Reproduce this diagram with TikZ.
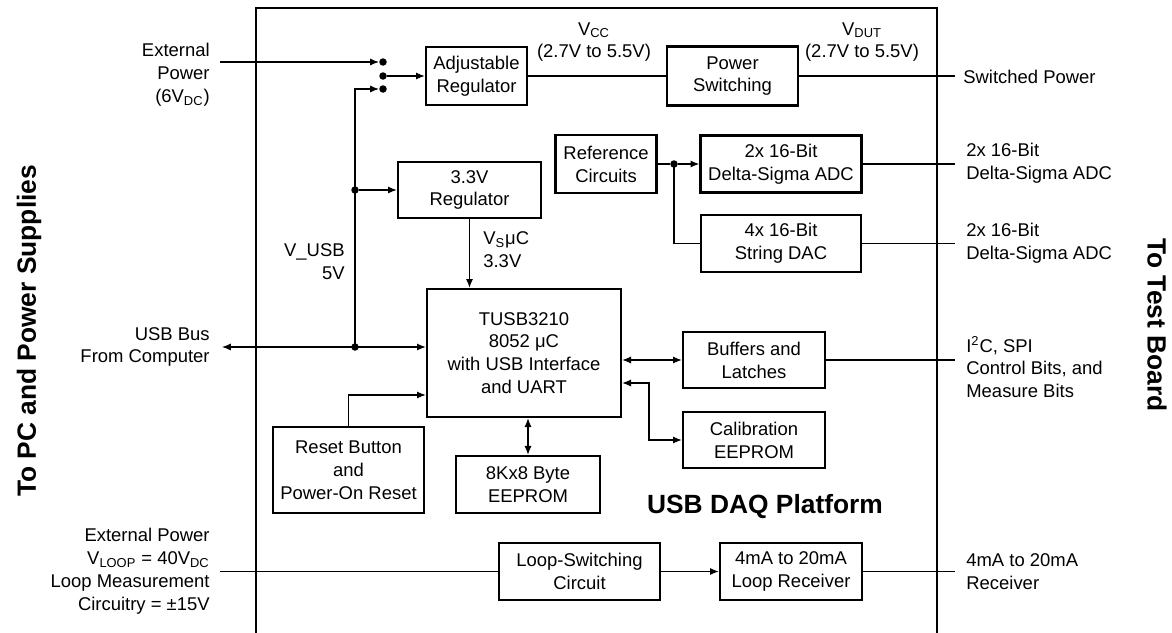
\documentclass[tikz,border=0pt]{standalone}
\usepackage{fontspec}
\setmainfont{Liberation Sans}
\usetikzlibrary{arrows.meta}

\begin{document}
\begin{tikzpicture}[x=0.02cm, y=-0.02cm, font=\fontsize{10.5}{13}\selectfont]
\tikzstyle{box1}=[draw, line width=1.4pt, align=center, inner sep=0pt]
\tikzstyle{dot}=[circle, fill, inner sep=0pt, minimum size=0.15cm]
\tikzstyle{txt}=[align=center, inner sep=0pt]
\tikzstyle{wire}=[line width=0.6pt]
\tikzstyle{arrow}=[wire, -{Latex[length=5pt,width=4pt]}]
\tikzstyle{biarrow}=[wire, {Latex[length=5pt,width=4pt]}-{Latex[length=5pt,width=4pt]}]
\tikzstyle{title}=[font=\fontsize{15}{18}\selectfont\bfseries, inner sep=0pt]
\useasboundingbox (0,0) rectangle (1172,632);

\draw [line width=1.3pt] (256,634) -- (256,8) -- (937,8) -- (937,634);

\node (AR) [box1, minimum width=2.02cm, minimum height=1.16cm] at (476.5,76) {Adjustable\\Regulator};
\node (PS) [box1, minimum width=2.62cm, minimum height=1.18cm] at (732.5,76) {Power\\Switching};
\node (RC) [box1, minimum width=2.02cm, minimum height=1.16cm] at (606,164) {Reference\\Circuits};
\node (ADC) [box1, minimum width=3.22cm, minimum height=1.14cm] at (781,164) {2x 16-Bit\\Delta-Sigma ADC};
\node (DAC) [box1, minimum width=3.2cm, minimum height=1.14cm] at (781,243.5) {4x 16-Bit\\String DAC};
\node (REG) [box1, minimum width=2.86cm, minimum height=1.12cm] at (469.5,190) {3.3V\\Regulator};
\node (MCU) [box1, minimum width=3.88cm, minimum height=2.56cm] at (524,353) {TUSB3210\\8052 μC\\with USB Interface\\and UART};
\node (BUF) [box1, minimum width=2.84cm, minimum height=1.12cm] at (754,360) {Buffers and\\Latches};
\node (CAL) [box1, minimum width=2.84cm, minimum height=1.12cm] at (754,440) {Calibration\\EEPROM};
\node (RST) [box1, minimum width=3.02cm, minimum height=1.72cm] at (348.5,470) {Reset Button\\and\\Power-On Reset};
\node (EEP) [box1, minimum width=2.88cm, minimum height=1.14cm] at (528,484.5) {8Kx8 Byte\\EEPROM};
\node (LSW) [box1, minimum width=3.22cm, minimum height=1.14cm] at (579.5,571.5) {Loop-Switching\\Circuit};
\node (LRX) [box1, minimum width=2.84cm, minimum height=1.14cm] at (791,571.5) {4mA to 20mA\\Loop Receiver};

\node (S1) [dot] at (383,62) {};
\node (S2) [dot] at (383,76) {};
\node (S3) [dot] at (383,89) {};
\node (J1) [dot] at (355,347) {};
\node (J2) [dot] at (355,190) {};
\node (RJ) [dot] at (674,164) {};

\coordinate (EXT) at (220,62);
\coordinate (USBL) at (222,347);
\coordinate (LOOP) at (220,571.5);
\coordinate (SWO) at (955,76);

\node (EXTT) [txt, anchor=east, align=right] at (210,75) {External\\Power\\(6V\textsubscript{DC})};
\node (USBT) [txt, anchor=east, align=right] at (210,347) {USB Bus\\From Computer};
\node (VUSB) [txt, anchor=east, align=right] at (345,262) {V\_USB\\5V};
\node (VSUC) [txt, anchor=west, align=left] at (483,249.5) {V\textsubscript{S}μC\\3.3V};
\node (VCC) [txt] at (594,42) {V\textsubscript{CC}\\(2.7V to 5.5V)};
\node (VDUT) [txt] at (862,42) {V\textsubscript{DUT}\\(2.7V to 5.5V)};
\node (SWT) [txt, anchor=west] at (963,77) {Switched Power};
\node (ADCT) [txt, anchor=west, align=left] at (966,163.5) {2x 16-Bit\\Delta-Sigma ADC};
\node (DACT) [txt, anchor=west, align=left] at (966,243) {2x 16-Bit\\Delta-Sigma ADC};
\node (BUFT) [txt, anchor=west, align=left] at (966,367) {I\textsuperscript{2}C, SPI\\Control Bits, and\\Measure Bits};
\node (LRXT) [txt, anchor=west, align=left] at (966,571.5) {4mA to 20mA\\Receiver};
\node (LOOPT) [txt, anchor=east, align=right] at (210,571) {External Power\\V\textsubscript{LOOP} = 40V\textsubscript{DC}\\Loop Measurement\\Circuitry = ±15V};
\node (DAQ) [title] at (765,507) {USB DAQ Platform};
\node (PC) [title, rotate=90] at (29,331) {To PC and Power Supplies};
\node (TB) [title, rotate=-90] at (1157,325) {To Test Board};

\draw [arrow] (EXT) -- (S1);
\draw [arrow] (S2) -- (AR);
\draw [arrow] (J1.center) -- (J2.center) |- (S3);
\draw [arrow] (J2) -- (REG);
\draw [biarrow] (USBL) -- (USBL -| MCU.west);
\draw [arrow] (REG) -- (REG |- MCU.north);
\draw [wire] (AR) -- (PS);
\draw [wire] (PS) -- (SWO);
\draw [wire] (RC) -- (RJ);
\draw [arrow] (RJ) -- (ADC);
\draw [wire] (RJ.center) |- (DAC.west);
\draw [wire] (ADC.east) -- ++(92,0);
\draw [wire] (DAC.east) -- ++(93,0);
\draw [biarrow] (MCU.east |- BUF.west) -- (BUF.west);
\draw [biarrow] ([yshift=-0.6cm]MCU.east) -| (649,420) |- (CAL.west);
\draw [wire] (BUF.east) -- ++(129,0);
\draw [biarrow] (EEP.north) -- (EEP.north |- MCU.south);
\draw [arrow] (RST.north) |- ([yshift=-0.84cm]MCU.west);
\draw [wire] (LOOP) -- (LSW.west);
\draw [arrow] (LSW) -- (LRX);
\draw [wire] (LRX.east) -- ++(92,0);

\end{tikzpicture}
\end{document}
